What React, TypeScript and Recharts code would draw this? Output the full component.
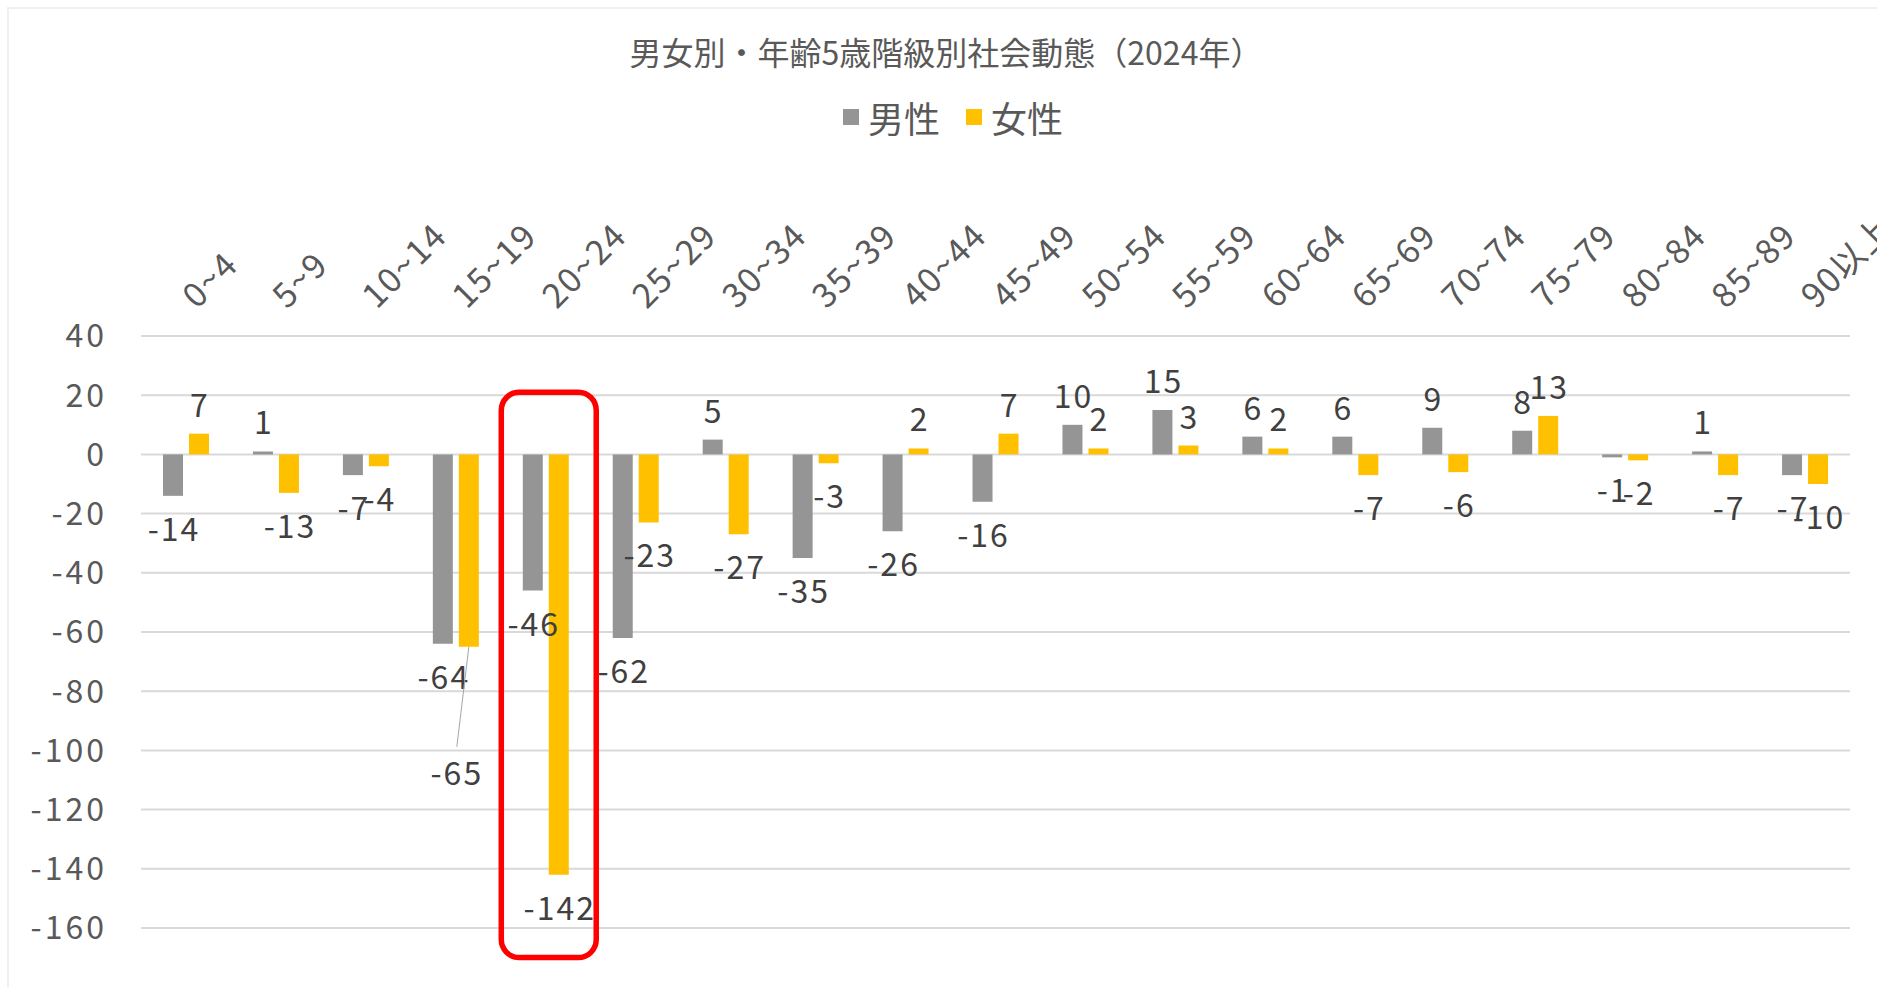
import React from "react"
import { BarChart, Bar, XAxis, YAxis, CartesianGrid, ReferenceArea } from "recharts"

const categories = [
  "0~4", "5~9", "10~14", "15~19", "20~24", "25~29", "30~34", "35~39", "40~44", "45~49",
  "50~54", "55~59", "60~64", "65~69", "70~74", "75~79", "80~84", "85~89", "90以上",
]
const maleValues = [-14, 1, -7, -64, -46, -62, 5, -35, -26, -16, 10, 15, 6, 6, 9, 8, -1, 1, -7]
const femaleValues = [7, -13, -4, -65, -142, -23, -27, -3, 2, 7, 2, 3, 2, -7, -6, 13, -2, -7, -10]
const seriesNames = ["男性", "女性"]
const yTicks = [-160, -140, -120, -100, -80, -60, -40, -20, 0, 20, 40]
const highlightCategory = "20~24"

const data = categories.map((name, i) => ({ name, male: maleValues[i], female: femaleValues[i] }))

const FONT = '"Noto Sans CJK JP", "Noto Sans", sans-serif'
const GRAY = "#959595"
const YELLOW = "#FFC000"
const TEXT = "#595959"
const LABEL = "#404040"
const seriesColors = [GRAY, YELLOW]

// labels dragged away from the default spot in the original, with a leader line
const movedLabels: Record<string, Record<number, { dx: number; dy: number }>> = {
  female: { 3: { dx: -13, dy: 124 } },
}

function makeLabel(series: string) {
  return (props: any) => {
    const { x, y, width, height, value, index } = props
    if (x == null || value == null) return null
    const cx = x + width / 2
    const top = Math.min(y, y + height)
    const bottom = Math.max(y, y + height)
    const endY = value >= 0 ? top : bottom
    const moved = movedLabels[series]?.[index]
    const lx = moved ? cx + moved.dx : cx
    const ly = moved ? endY + moved.dy : value >= 0 ? endY - 31 : endY + 31
    return (
      <g key={`${series}-${index}`}>
        {moved && <line x1={cx} y1={endY} x2={lx + 1} y2={ly - 24} stroke="#a6a6a6" strokeWidth={1} />}
        <text
          x={lx + 1}
          y={ly}
          textAnchor="middle"
          dominantBaseline="central"
          fill={LABEL}
          fontSize={32}
          letterSpacing={2}
          fontFamily={FONT}
        >
          {value}
        </text>
      </g>
    )
  }
}

function AgeTick({ x, y, payload }: any) {
  const tx = x + 11
  const ty = y - 26
  return (
    <text
      x={tx}
      y={ty}
      transform={`rotate(-45 ${tx} ${ty})`}
      textAnchor="start"
      fill={TEXT}
      fontSize={34}
      letterSpacing={1.5}
      fontFamily={FONT}
    >
      {payload.value}
    </text>
  )
}

function HighlightBox(props: any) {
  const { x, y, width, height } = props
  return <rect x={x + 0.5} y={y} width={width + 5} height={height} rx={18} ry={18} fill="none" stroke="#FF0000" strokeWidth={5.5} />
}

export default function App() {
  return (
    <div style={{ position: "absolute", left: 0, top: 0, width: 1877, height: 987, overflow: "hidden", background: "#fff" }}>
      <div style={{ position: "absolute", left: 7, top: 7, width: 1900, height: 1000, border: "2px solid #f0f0f0", boxSizing: "border-box" }} />
      <div
        style={{
          position: "absolute", left: 0, top: 31, width: 1877, paddingLeft: 15, boxSizing: "border-box",
          textAlign: "center", fontFamily: FONT, fontSize: 32, lineHeight: "40px", color: TEXT,
        }}
      >
        男女別・年齢5歳階級別社会動態（2024年）
      </div>
      <div
        style={{
          position: "absolute", left: 0, top: 95, width: 1877, paddingLeft: 29, boxSizing: "border-box",
          display: "flex", justifyContent: "center", fontFamily: FONT,
        }}
      >
        {seriesNames.map((name, i) => (
          <div key={name} style={{ display: "flex", alignItems: "center", marginLeft: i === 0 ? 0 : 26 }}>
            <span style={{ display: "inline-block", width: 16, height: 16, background: seriesColors[i], marginRight: 9 }} />
            <span style={{ fontSize: 36, color: TEXT, lineHeight: "44px" }}>{name}</span>
          </div>
        ))}
      </div>
      <div style={{ position: "absolute", left: 0, top: 0 }}>
        <BarChart
          width={1877}
          height={987}
          data={data}
          margin={{ top: 236, right: 27, bottom: 59, left: 41 }}
          barSize={20}
          barGap={6}
          style={{ overflow: "visible" }}
        >
          <CartesianGrid vertical={false} stroke="#d9d9d9" strokeWidth={2} />
          <XAxis
            dataKey="name"
            orientation="top"
            height={100}
            interval={0}
            tickLine={false}
            axisLine={false}
            tickSize={0}
            tickMargin={0}
            tick={<AgeTick />}
          />
          <YAxis
            width={100}
            domain={[-160, 40]}
            ticks={yTicks}
            interval={0}
            tickLine={false}
            axisLine={false}
            tickSize={0}
            tickMargin={34}
            tick={{ fill: TEXT, fontSize: 32, fontFamily: FONT, letterSpacing: 3 }}
          />
          <Bar dataKey="male" name={seriesNames[0]} fill={GRAY} isAnimationActive={false} label={makeLabel("male")} />
          <Bar dataKey="female" name={seriesNames[1]} fill={YELLOW} isAnimationActive={false} label={makeLabel("female")} />
          <ReferenceArea
            x1={highlightCategory}
            x2={highlightCategory}
            y1={21}
            y2={-170}
            ifOverflow="visible"
            shape={<HighlightBox />}
          />
        </BarChart>
      </div>
    </div>
  )
}
